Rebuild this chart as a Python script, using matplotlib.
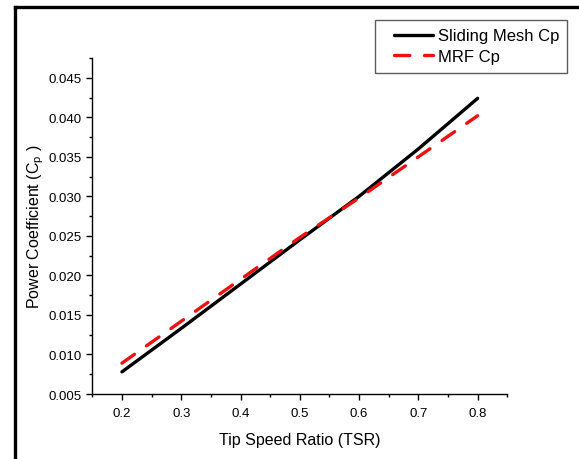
import matplotlib

matplotlib.use("Agg")
import matplotlib.pyplot as plt
from matplotlib.legend_handler import HandlerLine2D
from matplotlib.lines import Line2D
from matplotlib.ticker import MultipleLocator

# Values.
tsr = [0.2, 0.3, 0.4, 0.5, 0.6, 0.7, 0.8]
cp_sliding = [0.0078, 0.0133, 0.0189, 0.0245, 0.0300, 0.0360, 0.0424]
cp_mrf = [0.0089, 0.0142, 0.0195, 0.0248, 0.0298, 0.0350, 0.0402]

plt.rcParams["font.family"] = ["Liberation Sans", "DejaVu Sans"]
plt.rcParams["mathtext.fontset"] = "custom"
plt.rcParams["mathtext.rm"] = "Liberation Sans"


class IndentedLine(HandlerLine2D):
    # legend sample drawn only in the right part of the handle box
    def get_xdata(self, legend, xdescent, ydescent, width, height, fontsize):
        x = [-xdescent + width * 0.21, -xdescent + width]
        return x, x


W, H = 579, 460
fig = plt.figure(figsize=(W / 100, H / 100), dpi=100)
ax = fig.add_axes([92.3 / W, 1 - 395 / H, (507.3 - 92.3) / W, (395 - 59) / H])

ax.plot(tsr, cp_sliding, color="black", linewidth=2.4,
        solid_capstyle="round", label="Sliding Mesh Cp")
ax.plot(tsr, cp_mrf, color="#ee1111", linewidth=2.4, dashes=(4.6, 4.4),
        dash_capstyle="round", label="MRF Cp")

ax.set_xlim(0.15, 0.85)
ax.set_ylim(0.005, 0.0475)
ax.xaxis.set_major_locator(MultipleLocator(0.1))
ax.xaxis.set_minor_locator(MultipleLocator(0.05))
ax.yaxis.set_major_locator(MultipleLocator(0.005))
ax.yaxis.set_minor_locator(MultipleLocator(0.0025))
ax.xaxis.set_major_formatter(plt.FuncFormatter(lambda v, p: f"{v:.1f}"))
ax.yaxis.set_major_formatter(plt.FuncFormatter(lambda v, p: f"{v:.3f}"))

for s in ("top", "right"):
    ax.spines[s].set_visible(False)
for s in ("left", "bottom"):
    ax.spines[s].set_linewidth(1.0)

ax.tick_params(which="major", direction="out", length=4.5, width=1.0,
               labelsize=9.5, pad=3)
ax.tick_params(axis="x", which="major", pad=5)
ax.tick_params(which="minor", direction="out", length=2.3, width=1.0)

ax.set_xlabel("Tip Speed Ratio (TSR)", fontsize=11.5, labelpad=9)
ax.set_ylabel(r"Power Coefficient (C$_\mathregular{p}$ )", fontsize=11.5,
              labelpad=2)

handler = IndentedLine()
leg = fig.legend(loc="upper left", bbox_to_anchor=(375 / W, 1 - 21 / H),
                 fontsize=12, frameon=True, fancybox=False,
                 handlelength=2.95, handletextpad=0.3, labelspacing=0.35,
                 borderpad=0.5, borderaxespad=0,
                 handler_map={Line2D: handler})
leg.get_frame().set_edgecolor("#333333")
leg.get_frame().set_linewidth(1.0)

# Outer black frame (only left and top edges fall inside the picture).
fig.add_artist(Line2D([14.5 / W, 14.5 / W], [0, 1 - 7.5 / H],
                      transform=fig.transFigure, color="black", linewidth=2.4,
                      solid_capstyle="projecting"))
fig.add_artist(Line2D([14.5 / W, 1], [1 - 7.5 / H, 1 - 7.5 / H],
                      transform=fig.transFigure, color="black", linewidth=2.4,
                      solid_capstyle="projecting"))

fig.savefig("out.png", dpi=100)
